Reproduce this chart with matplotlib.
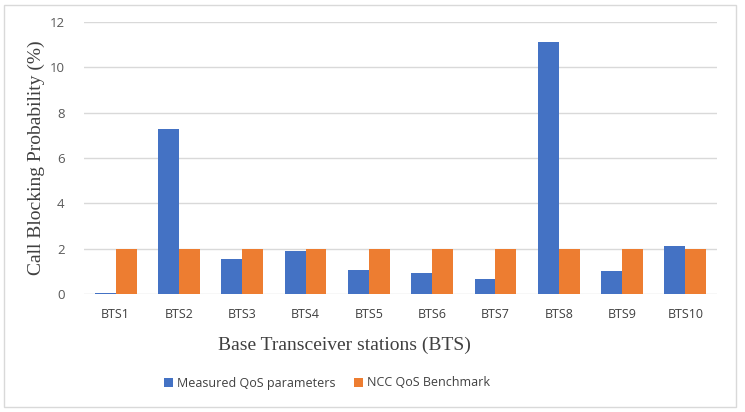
import matplotlib
matplotlib.use("Agg")
import matplotlib.pyplot as plt
import numpy as np
from matplotlib.patches import Rectangle

categories = ["BTS1", "BTS2", "BTS3", "BTS4", "BTS5", "BTS6", "BTS7", "BTS8", "BTS9", "BTS10"]
measured = [0.03, 7.26, 1.56, 1.89, 1.07, 0.92, 0.66, 11.1, 1.01, 2.13]
benchmark = [2, 2, 2, 2, 2, 2, 2, 2, 2, 2]
series_names = ["Measured QoS parameters", "NCC QoS Benchmark"]
yticks = [0, 2, 4, 6, 8, 10, 12]

blue = "#4472C4"
orange = "#ED7D31"

fig = plt.figure(figsize=(7.45, 4.12), dpi=100)
ax = fig.add_axes([84/745, 1-294/412, 633/745, (294-22)/412])

x = np.arange(len(categories))
w = 0.33
ax.bar(x - w/2, measured, w, color=blue, label=series_names[0], zorder=3)
ax.bar(x + w/2, benchmark, w, color=orange, label=series_names[1], zorder=3)

ax.set_xlim(-0.5, len(categories) - 0.5)
ax.set_ylim(0, 12)
ax.set_yticks(yticks)
ax.set_yticklabels([str(t) for t in yticks], fontfamily="Open Sans", fontsize=9.5, color="#595959")
ax.set_xticks(x)
ax.set_xticklabels(categories, fontfamily="Open Sans", fontsize=9, color="#404040")
ax.tick_params(axis="both", length=0)
ax.tick_params(axis="y", pad=14)
ax.tick_params(axis="x", pad=10)
ax.grid(axis="y", color="#D9D9D9", linewidth=1, zorder=0)
for s in ax.spines.values():
    s.set_visible(False)

ax.set_ylabel("Call Blocking Probability (%)", fontfamily="Liberation Serif", fontsize=14, color="#404040", labelpad=3)
ax.set_xlabel("Base Transceiver stations (BTS)", fontfamily="Liberation Serif", fontsize=14, color="#404040", labelpad=12)
ax.xaxis.set_label_coords((344-84)/633, -(345-294)/272, transform=ax.transAxes)
ax.xaxis.label.set_verticalalignment("center")

leg = fig.legend(loc="center", bbox_to_anchor=(327/745, 1-383/412), ncol=2, frameon=False,
                 prop={"family": "Open Sans", "size": 9}, handlelength=0.7, handleheight=0.7,
                 columnspacing=1.5, handletextpad=0.3)
for t in leg.get_texts():
    t.set_color("#404040")

fig.patches.append(Rectangle((4/745, 1-407/412), 732/745, 402/412, transform=fig.transFigure,
                             fill=False, edgecolor="#D9D9D9", linewidth=1))

fig.savefig("out.png", dpi=100)
